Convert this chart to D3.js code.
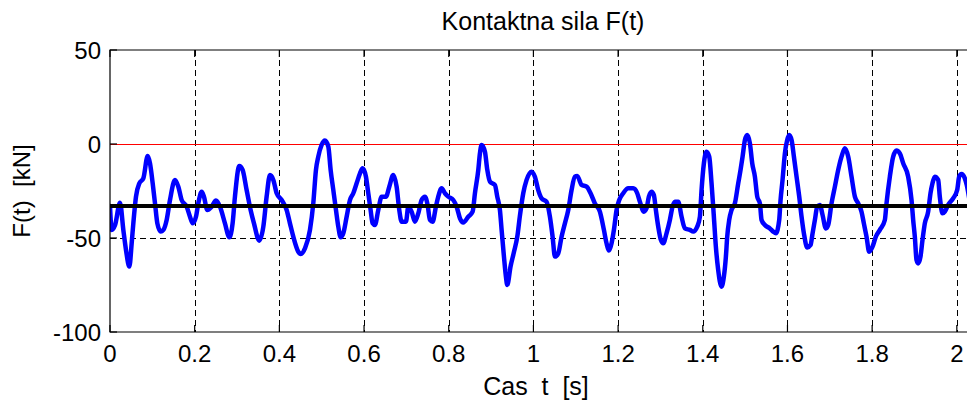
<!DOCTYPE html>
<html>
<head>
<meta charset="utf-8">
<script src="https://cdn.jsdelivr.net/npm/d3@7"></script>
<style>
  body { margin: 0; background: #fff; }
  svg { display: block; }
  text { font-family: "Liberation Sans", Arial, sans-serif; fill: #000; white-space: pre; }
</style>
</head>
<body>
<svg id="chart" width="967" height="400"></svg>
<script>
// Contact force samples: time [s] and force [kN]
const timeS = [
  0, 0.004, 0.012, 0.0236, 0.0315, 0.0378, 0.0457, 0.0512, 0.0551, 0.0614,
  0.0693, 0.0787, 0.089, 0.0945, 0.1008, 0.1063, 0.1118, 0.1197, 0.126, 0.1338,
  0.1417, 0.1535, 0.1614, 0.1692, 0.181, 0.1889, 0.1952, 0.203, 0.2085, 0.2164,
  0.2219, 0.2298, 0.2401, 0.2503, 0.2597, 0.2715, 0.2818, 0.2896, 0.2951, 0.3054,
  0.3132, 0.3227, 0.3321, 0.34, 0.3526, 0.3621, 0.3699, 0.3778, 0.3857, 0.3936,
  0.4054, 0.4172, 0.425, 0.4329, 0.4447, 0.4502, 0.4604, 0.4723, 0.4801, 0.4864,
  0.4919, 0.4998, 0.5077, 0.5156, 0.5211, 0.5274, 0.5337, 0.5392, 0.5447, 0.551,
  0.5589, 0.5667, 0.5746, 0.5825, 0.5904, 0.5967, 0.6045, 0.61, 0.6155, 0.6202,
  0.6257, 0.6336, 0.6415, 0.6518, 0.6596, 0.669, 0.6769, 0.6832, 0.6887, 0.699,
  0.7045, 0.7123, 0.7202, 0.7281, 0.736, 0.7438, 0.7501, 0.7556, 0.7619, 0.7698,
  0.7753, 0.7832, 0.791, 0.7989, 0.8107, 0.8186, 0.8265, 0.8343, 0.8461, 0.8564,
  0.8619, 0.8698, 0.8737, 0.8776, 0.8855, 0.8911, 0.8973, 0.9091, 0.9146, 0.9209,
  0.9249, 0.9304, 0.9351, 0.9382, 0.9461, 0.954, 0.9619, 0.9682, 0.976, 0.9839,
  0.9957, 1.0035, 1.0114, 1.0193, 1.0311, 1.039, 1.0453, 1.0508, 1.0586, 1.0665,
  1.0744, 1.0823, 1.0901, 1.098, 1.1035, 1.1138, 1.1256, 1.135, 1.1452, 1.157,
  1.1665, 1.1727, 1.1783, 1.1846, 1.1901, 1.1964, 1.2027, 1.2121, 1.2239, 1.2357,
  1.2452, 1.2515, 1.2609, 1.2672, 1.2727, 1.279, 1.2845, 1.2892, 1.2948, 1.3011,
  1.3066, 1.3144, 1.3223, 1.3286, 1.3341, 1.342, 1.3499, 1.3577, 1.3695, 1.3774,
  1.3869, 1.3932, 1.3971, 1.4026, 1.4089, 1.4152, 1.4207, 1.4262, 1.4309, 1.4364,
  1.4443, 1.4498, 1.4546, 1.4577, 1.4624, 1.4679, 1.4758, 1.4837, 1.4892, 1.494,
  1.4995, 1.505, 1.5113, 1.5168, 1.5231, 1.5286, 1.5349, 1.5388, 1.5467, 1.5585,
  1.5664, 1.5727, 1.5805, 1.5837, 1.5884, 1.5939, 1.5994, 1.6041, 1.6097, 1.6152,
  1.6215, 1.6278, 1.6333, 1.6388, 1.6467, 1.6545, 1.6593, 1.6648, 1.6703, 1.6766,
  1.6829, 1.6907, 1.6962, 1.7041, 1.712, 1.7198, 1.7277, 1.7356, 1.7434, 1.7513,
  1.7592, 1.7671, 1.7749, 1.7804, 1.7867, 1.793, 1.8009, 1.8088, 1.8182, 1.83,
  1.8339, 1.8418, 1.8497, 1.8575, 1.8654, 1.8733, 1.8851, 1.893, 1.8969, 1.9008,
  1.9048, 1.9087, 1.9142, 1.9189, 1.9244, 1.9323, 1.9378, 1.9425, 1.948, 1.9559,
  1.9598, 1.9661, 1.9717, 1.9795, 1.9913, 2.0008, 2.0055, 2.011, 2.0189, 2.0236,
  2.03
];
const forceKN = [
  -33, -45.7, -43.1, -31.2, -45.7, -56.4, -65.2, -52.8, -42.2, -28.0,
  -20.9, -18.3, -6.4, -10.3, -20.9, -31.6, -42.2, -46.6, -45.7, -40.4,
  -29.8, -19.1, -22.7, -29.8, -33.3, -38.7, -42.2, -38.7, -31.6, -25.4,
  -28.0, -35.1, -33.3, -30.1, -33.3, -42.2, -49.6, -42.2, -28.0, -11.7,
  -13.8, -24.5, -35.1, -42.2, -51.4, -44.0, -28.0, -16.5, -19.1, -26.2,
  -29.8, -35.1, -42.2, -49.3, -57.3, -58.5, -55.5, -45.7, -31.6, -13.8,
  -6.7, -0.5, 1.8, -1.4, -13.8, -24.5, -35.1, -44.0, -49.6, -47.5,
  -38.7, -29.8, -26.2, -20.9, -15.6, -12.9, -17.4, -26.2, -35.1, -42.2,
  -43.1, -35.1, -28.0, -28.0, -22.7, -16.5, -22.7, -35.1, -41.3, -41.3,
  -33.3, -36.0, -41.3, -36.9, -29.8, -28.0, -32.4, -40.4, -41.3, -33.3,
  -28.0, -23.6, -26.2, -28.0, -29.8, -33.3, -39.5, -41.8, -38.7, -36.0,
  -26.2, -13.8, -5.0, -0.5, -4.1, -13.8, -20.0, -21.8, -28.0, -35.1,
  -45.7, -59.9, -70.6, -75.0, -65.0, -57.5, -49.3, -38.0, -26.2, -19.1,
  -14.7, -17.4, -24.5, -28.9, -30.7, -38.7, -49.3, -59.9, -58.2, -49.3,
  -42.2, -35.1, -24.5, -17.4, -17.0, -21.8, -22.7, -26.2, -31.6, -36.0,
  -45.7, -52.8, -56.7, -52.8, -45.7, -35.1, -29.8, -26.2, -23.6, -23.6,
  -26.2, -30.7, -36.0, -34.2, -28.0, -25.4, -27.1, -35.1, -44.0, -51.1,
  -52.8, -47.5, -40.4, -33.3, -30.7, -30.7, -38.7, -44.9, -45.7, -46.6,
  -44.0, -38.7, -24.5, -10.3, -4.1, -6.7, -20.9, -38.7, -54.6, -67.0,
  -75.9, -70.6, -59.9, -49.3, -40.4, -35.1, -31.6, -20.9, -13.8, -6.7,
  2.1, 4.8, 0.4, -10.3, -17.4, -28.0, -31.6, -40.4, -43.1, -44.9,
  -46.6, -47.5, -40.4, -29.8, -19.1, -5.0, 2.1, 4.8, 2.1, -6.7,
  -17.4, -28.0, -38.7, -47.5, -55.0, -53.7, -47.5, -40.4, -33.3, -32.4,
  -37.8, -44.9, -43.1, -31.6, -22.7, -13.8, -6.7, -2.3, -6.7, -17.4,
  -28.0, -31.6, -36.0, -42.2, -49.3, -57.3, -54.6, -49.3, -45.7, -40.4,
  -31.6, -17.4, -6.7, -3.5, -5.0, -10.3, -17.4, -29.8, -40.4, -49.3,
  -61.7, -63.5, -59.9, -51.1, -42.2, -36.0, -26.2, -20.9, -17.4, -19.1,
  -28.0, -36.9, -36.0, -32.4, -28.9, -24.5, -17.4, -16.0, -18.3, -22.0,
  -30.0
];

// Mean force and the zero reference level [kN]
const meanForce = -33;
const zeroLevel = 0;

// Axis ticks and labels
const xTicks = [0, 0.2, 0.4, 0.6, 0.8, 1, 1.2, 1.4, 1.6, 1.8, 2];
const xTickLabels = ["0", "0.2", "0.4", "0.6", "0.8", "1", "1.2", "1.4", "1.6", "1.8", "2"];
const yTicks = [50, 0, -50, -100];
const yTickLabels = ["50", "0", "-50", "-100"];
const xDomain = [0, 2.05];
const yDomain = [-100, 50];

const titleText = "Kontaktna sila F(t)";
const xLabelText = "Cas  t  [s]";
const yLabelText = "F(t)  [kN]";

const svg = d3.select("#chart");
const W = 967, H = 400;
const plot = { left: 110, right: 978, top: 50, bottom: 332 };

const x = d3.scaleLinear().domain(xDomain).range([plot.left, plot.right]);
const y = d3.scaleLinear().domain(yDomain).range([plot.bottom, plot.top]);
const crisp = v => Math.round(v) + 0.5;

svg.append("rect").attr("width", W).attr("height", H).attr("fill", "#fff");

svg.append("defs").append("clipPath").attr("id", "plot-clip")
  .append("rect")
  .attr("x", plot.left).attr("y", plot.top)
  .attr("width", plot.right - plot.left).attr("height", plot.bottom - plot.top);

// Dashed grid (the zero level carries its own solid red line)
const grid = svg.append("g").attr("stroke", "#000").attr("stroke-width", 1)
  .attr("stroke-dasharray", "6,4").attr("shape-rendering", "crispEdges");
grid.selectAll("line.gx").data(xTicks.filter(t => t > xDomain[0]))
  .join("line").attr("class", "gx")
  .attr("x1", d => crisp(x(d))).attr("x2", d => crisp(x(d)))
  .attr("y1", plot.top).attr("y2", plot.bottom);
grid.selectAll("line.gy")
  .data(yTicks.filter(t => t > yDomain[0] && t < yDomain[1] && t !== zeroLevel))
  .join("line").attr("class", "gy")
  .attr("x1", plot.left).attr("x2", plot.right)
  .attr("y1", d => crisp(y(d))).attr("y2", d => crisp(y(d)));

const plotArea = svg.append("g").attr("clip-path", "url(#plot-clip)");

// Zero reference line
plotArea.append("line")
  .attr("x1", plot.left).attr("x2", plot.right)
  .attr("y1", crisp(y(zeroLevel))).attr("y2", crisp(y(zeroLevel)))
  .attr("stroke", "#ff0000").attr("stroke-width", 1)
  .attr("shape-rendering", "crispEdges");

// Force signal
const series = timeS.map((t, i) => [t, forceKN[i]]);
const line = d3.line()
  .x(d => x(d[0])).y(d => y(d[1]))
  .curve(d3.curveMonotoneX);
plotArea.append("path")
  .datum(series)
  .attr("d", line)
  .attr("fill", "none")
  .attr("stroke", "#0000ff")
  .attr("stroke-width", 4.5)
  .attr("stroke-linejoin", "round")
  .attr("stroke-linecap", "round");

// Mean force line
plotArea.append("line")
  .attr("x1", plot.left).attr("x2", plot.right)
  .attr("y1", y(meanForce)).attr("y2", y(meanForce))
  .attr("stroke", "#000").attr("stroke-width", 4);

// Frame and inward ticks
const frame = svg.append("g").attr("stroke", "#000").attr("stroke-width", 1.2)
  .attr("fill", "none");
frame.append("path")
  .attr("d", `M${plot.right},${plot.top}H${plot.left}V${plot.bottom}H${plot.right}`);
const tickLen = 7;
frame.selectAll("line.tb").data(xTicks).join("line").attr("class", "tb")
  .attr("x1", d => x(d)).attr("x2", d => x(d))
  .attr("y1", plot.bottom).attr("y2", plot.bottom - tickLen);
frame.selectAll("line.tt").data(xTicks).join("line").attr("class", "tt")
  .attr("x1", d => x(d)).attr("x2", d => x(d))
  .attr("y1", plot.top).attr("y2", plot.top + tickLen);
frame.selectAll("line.tl").data(yTicks).join("line").attr("class", "tl")
  .attr("x1", plot.left).attr("x2", plot.left + tickLen)
  .attr("y1", d => y(d)).attr("y2", d => y(d));

// Tick labels
svg.append("g").selectAll("text").data(xTicks).join("text")
  .attr("x", d => x(d)).attr("y", plot.bottom + 30)
  .attr("text-anchor", "middle").attr("font-size", 24)
  .text((d, i) => xTickLabels[i]);
svg.append("g").selectAll("text").data(yTicks).join("text")
  .attr("x", plot.left - 9).attr("y", d => y(d) + 8.5)
  .attr("text-anchor", "end").attr("font-size", 24)
  .text((d, i) => yTickLabels[i]);

// Title and axis labels
svg.append("text").attr("x", 543).attr("y", 30)
  .attr("text-anchor", "middle").attr("font-size", 25).text(titleText);
svg.append("text").attr("x", 536).attr("y", 395)
  .attr("text-anchor", "middle").attr("font-size", 25).text(xLabelText);
svg.append("text")
  .attr("transform", `translate(30,${(plot.top + plot.bottom) / 2}) rotate(-90)`)
  .attr("text-anchor", "middle").attr("font-size", 24).text(yLabelText);
</script>
</body>
</html>
